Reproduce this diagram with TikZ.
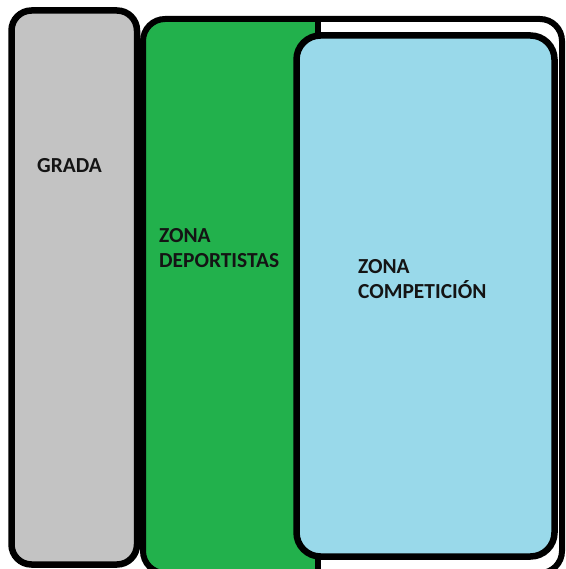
\documentclass[tikz,border=0pt]{standalone}
\usepackage{fontspec}
\setmainfont{Carlito}
\definecolor{gradagray}{HTML}{C3C3C3}
\definecolor{zonagreen}{HTML}{22B14C}
\definecolor{zonablue}{HTML}{99D9EA}
\definecolor{labelink}{HTML}{141414}
\tikzset{
  zonelabel/.style={anchor=base west, inner sep=0pt, align=left, text=labelink,
    font=\bfseries\fontsize{21.5}{25}\selectfont},
  zoneborder/.style={draw=black, line width=6.5bp, rounded corners=20bp},
}
\begin{document}
\begin{tikzpicture}[x=1bp,y=-1bp]
  \useasboundingbox (0,0) rectangle (566,569);
  \fill[white] (0,0) rectangle (566,569);

  % Outer area: green part and white part
  \begin{scope}
    \clip[rounded corners=22bp] (143,19) rectangle (562,573);
    \fill[zonagreen] (143,19) rectangle (318,573);
  \end{scope}
  \draw[line width=6bp, rounded corners=22bp] (143,19) rectangle (562,573);
  \draw[line width=6.5bp] (318,19) -- (318,573);

  % Grada
  \draw[zoneborder, fill=gradagray] (11.5,10.5) rectangle (137,564.5);

  % Zona competicion
  \draw[zoneborder, fill=zonablue, rounded corners=24bp] (296.5,35.5) rectangle (554.5,556.5);

  % Labels
  \node[zonelabel] (grada) at (37,172) {GRADA};
  \node[zonelabel] (deportistas) at (159,267) {ZONA\\DEPORTISTAS};
  \node[zonelabel] (competicion) at (358,298) {ZONA\\COMPETICIÓN};
\end{tikzpicture}
\end{document}
